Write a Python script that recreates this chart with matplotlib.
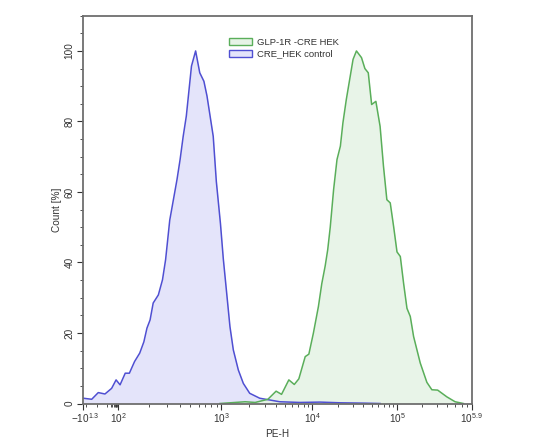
import numpy as np
import matplotlib
matplotlib.use("Agg")
from matplotlib import pyplot as plt
from matplotlib.patches import Patch
from matplotlib.transforms import ScaledTranslation

plt.rcParams['font.family'] = ['Liberation Sans', 'DejaVu Sans']
plt.rcParams['mathtext.default'] = 'regular'

# histogram traces, x read as PE-H decades (logicle axis), y as Count [%]
blue_dec = [-1.27, -0.48, 0.14, 0.77, 1.40, 1.82, 2.02, 2.07, 2.11, 2.16, 2.21, 2.25,
            2.28, 2.31, 2.34, 2.39, 2.43, 2.46, 2.50, 2.57, 2.60, 2.63, 2.66, 2.71,
            2.75, 2.79, 2.83, 2.86, 2.89, 2.92, 2.95, 2.99, 3.02, 3.057, 3.093, 3.13,
            3.185, 3.24, 3.31, 3.42, 3.53, 3.64, 3.86, 4.09, 4.33, 4.62, 4.8]
blue_cnt = [1.5, 1.2, 3.1, 2.7, 4.3, 6.7, 5.3, 8.6, 8.6, 11.9, 14.3, 17.5,
            21.4, 23.7, 28.5, 30.8, 35.1, 40.8, 52.0, 63.5, 69.2, 75.8, 81.5, 95.7,
            100.0, 93.8, 91.4, 87.2, 81.5, 75.8, 63.0, 51.0, 41.0, 31.3, 21.8, 15.2,
            9.5, 5.7, 2.9, 1.5, 1.0, 0.5, 0.3, 0.4, 0.2, 0.1, 0.0]

green_dec = [2.985, 3.26, 3.37, 3.51, 3.60, 3.66, 3.74, 3.80, 3.85, 3.92, 3.96, 4.01,
             4.07, 4.11, 4.15, 4.18, 4.21, 4.25, 4.29, 4.33, 4.36, 4.40, 4.44, 4.48,
             4.52, 4.58, 4.62, 4.66, 4.70, 4.75, 4.80, 4.84, 4.88, 4.92, 4.96, 5.0,
             5.04, 5.08, 5.12, 5.16, 5.20, 5.28, 5.36, 5.42, 5.49, 5.60, 5.70, 5.80]
green_cnt = [0.0, 0.5, 0.3, 1.2, 3.5, 2.6, 6.7, 5.4, 7.0, 13.3, 14.0, 19.9,
             27.5, 34.0, 39.0, 43.6, 50.0, 60.7, 69.2, 73.0, 79.6, 86.2, 91.9, 97.6,
             100.0, 98.1, 95.0, 93.8, 84.8, 85.7, 78.6, 67.3, 57.8, 56.9, 50.2, 43.0,
             41.7, 34.0, 27.0, 24.7, 19.0, 11.5, 6.0, 3.9, 3.8, 1.9, 0.5, 0.0]

tick_vals = [-10**1.3, 1e2, 1e3, 1e4, 1e5, 10**5.9]
tick_labels = [r'$-10^{1.3}$', r'$10^{2}$', r'$10^{3}$', r'$10^{4}$', r'$10^{5}$', r'$10^{5.9}$']

# logicle-like display: decade anchors vs. axis position
knots_g = np.array([-6.0, -1.302, 2.0, 3.0, 4.0, 5.0, 5.9, 8.0])
knots_p = np.array([-49.8, 0.0, 35.0, 138.5, 229.5, 314.0, 388.7, 563.0])


def to_dec(v):
    return np.arcsinh(np.asarray(v, dtype=float) / 2) / np.log(10)


def from_dec(g):
    return 2 * np.sinh(np.asarray(g, dtype=float) * np.log(10))


def forward(v):
    return np.interp(to_dec(v), knots_g, knots_p)


def inverse(p):
    return from_dec(np.interp(p, knots_p, knots_g))


blue_x = from_dec(blue_dec)
green_x = from_dec(green_dec)

fig = plt.figure(figsize=(5.45, 4.48), dpi=100)
ax = fig.add_axes([0.1523, 0.0993, 0.7132, 0.8657])
ax.set_xscale('function', functions=(forward, inverse))

blue_line = '#4f4fd2'
blue_fill = '#e4e4fa'
green_line = '#5aae5a'
green_fill = '#e6f3e6'

ax.fill_between(blue_x, blue_cnt, 0, color=blue_fill, lw=0)
ax.fill_between(green_x, green_cnt, 0, color=green_fill, lw=0, alpha=0.9)
ax.plot(blue_x, blue_cnt, color=blue_line, lw=1.1)
ax.plot(green_x, green_cnt, color=green_line, lw=1.1)

ax.set_xlim(-10**1.3, 10**5.9)
ax.set_ylim(0, 110)

ax.set_xticks(tick_vals)
ax.set_xticklabels(tick_labels)
minor = [-10, 0, 10, 20, 30, 40, 50, 60, 70, 80, 90]
for d in range(2, 6):
    minor += [k * 10**d for k in range(2, 10) if k * 10**d < 10**5.9]
ax.set_xticks(minor, minor=True)

ax.set_yticks([0, 20, 40, 60, 80, 100])
ax.set_yticks(np.arange(0, 111, 5), minor=True)
for lab in ax.get_yticklabels():
    lab.set_rotation(90)
    lab.set_va('center')

ax.tick_params(axis='both', which='major', direction='out', length=4, width=0.8,
               colors='#333333', labelsize=7.2, labelcolor='#333333')
ax.tick_params(axis='both', which='minor', direction='out', length=2.5, width=0.6,
               colors='#333333')
ax.tick_params(axis='y', pad=2)
ax.tick_params(axis='x', pad=1.5)

# first x label sits a little right of the spine, as in the original
first = ax.get_xticklabels()[0]
first.set_transform(first.get_transform() + ScaledTranslation(2 / 100, 0, fig.dpi_scale_trans))

for sp in ax.spines.values():
    sp.set_color('#6e6e6e')
    sp.set_linewidth(1.3)

ax.set_xlabel('PE-H', fontsize=7.2, color='#333333', labelpad=3)
ax.set_ylabel('Count [%]', fontsize=7.2, color='#333333', labelpad=2)

handles = [Patch(facecolor=green_fill, edgecolor=green_line, lw=1.0),
           Patch(facecolor=blue_fill, edgecolor=blue_line, lw=1.0)]
ax.legend(handles, ['GLP-1R -CRE HEK', 'CRE_HEK control'], loc='upper left',
          bbox_to_anchor=(0.355, 0.965), frameon=False, fontsize=6.8,
          handlelength=2.4, handleheight=0.7, handletextpad=0.5, labelspacing=0.3,
          labelcolor='#333333')

fig.savefig('out.png', dpi=100)
